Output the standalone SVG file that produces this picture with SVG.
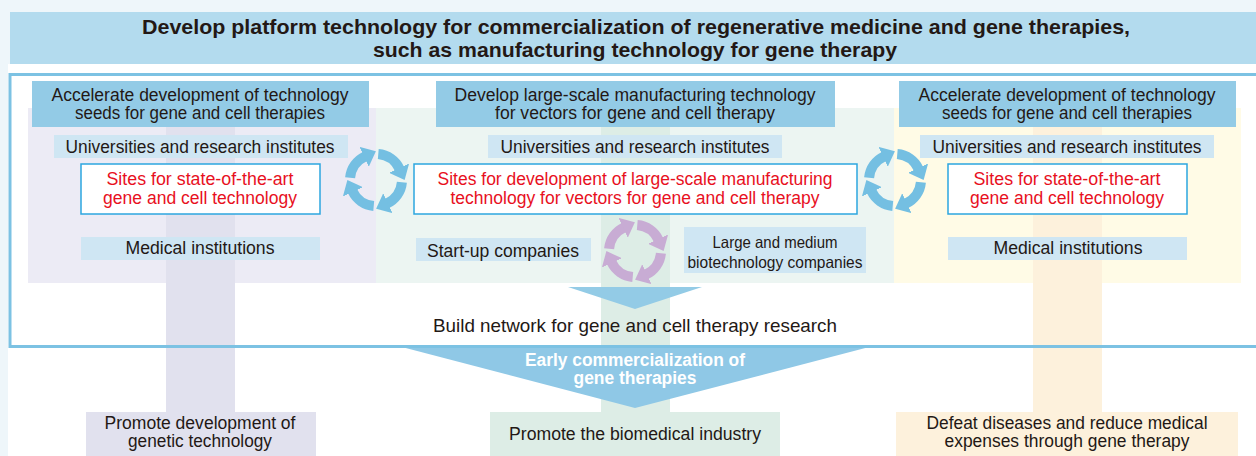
<svg xmlns="http://www.w3.org/2000/svg" width="1256" height="456" viewBox="0 0 1256 456">
<style>
text{font-family:"Liberation Sans",Arial,sans-serif;fill:#231815;text-anchor:middle}
.hd{font-size:20.5px;font-weight:bold}
.t{font-size:17.5px}
.sm{font-size:16.5px}
.red{fill:#e8101e}
.wb{fill:#ffffff;font-weight:bold;font-size:17.5px}
.colhd{fill:#93cbe6}
.lbl{fill:#cfe6f3}
.site{fill:#ffffff;stroke:#2ca6df;stroke-width:1.5}
</style>
<defs>
<marker id="mb" markerUnits="userSpaceOnUse" markerWidth="15" markerHeight="22" refX="1" refY="11" orient="auto">
<path d="M0,0 L13,11 L0,22 Z" fill="#74bfe2"/>
</marker>
<marker id="mp" markerUnits="userSpaceOnUse" markerWidth="15" markerHeight="22" refX="1" refY="11" orient="auto">
<path d="M0,0 L13,11 L0,22 Z" fill="#c8acd4"/>
</marker>
<g id="cycB" fill="none" stroke="#74bfe2" stroke-width="10">
<path d="M2.27,-25.9 A26,26 0 0 1 23.56,-10.99" marker-end="url(#mb)"/>
<path d="M25.9,2.27 A26,26 0 0 1 10.99,23.56" marker-end="url(#mb)"/>
<path d="M-2.27,25.9 A26,26 0 0 1 -23.56,10.99" marker-end="url(#mb)"/>
<path d="M-25.9,-2.27 A26,26 0 0 1 -10.99,-23.56" marker-end="url(#mb)"/>
</g>
<g id="cycP" fill="none" stroke="#c8acd4" stroke-width="10">
<path d="M2.27,-25.9 A26,26 0 0 1 23.56,-10.99" marker-end="url(#mp)"/>
<path d="M25.9,2.27 A26,26 0 0 1 10.99,23.56" marker-end="url(#mp)"/>
<path d="M-2.27,25.9 A26,26 0 0 1 -23.56,10.99" marker-end="url(#mp)"/>
<path d="M-25.9,-2.27 A26,26 0 0 1 -10.99,-23.56" marker-end="url(#mp)"/>
</g>
</defs>

<!-- background -->
<rect x="0" y="0" width="1256" height="456" fill="#eef6fa"/>
<rect x="8" y="64" width="1248" height="392" fill="#ffffff"/>

<!-- column backgrounds -->
<g id="col-bg">
<rect x="28" y="108" width="348" height="175" fill="#ecebf5"/>
<rect x="376" y="108" width="518" height="175" fill="#ecf5f2"/>
<rect x="894" y="108" width="347" height="175" fill="#fffbe6"/>
<rect x="166" y="108" width="69" height="304" fill="#e1e1ee"/>
<rect x="601" y="108" width="69" height="304" fill="#ddede6"/>
<rect x="1033" y="108" width="69" height="304" fill="#fdf1dc"/>
</g>

<!-- header -->
<g id="header">
<rect x="10" y="12" width="1246" height="52" fill="#b3dbee"/>
<text class="hd" x="636" y="34" textLength="988" lengthAdjust="spacingAndGlyphs">Develop platform technology for commercialization of regenerative medicine and gene therapies,</text>
<text class="hd" x="635" y="57" textLength="524" lengthAdjust="spacingAndGlyphs">such as manufacturing technology for gene therapy</text>
</g>

<!-- funnel -->
<g id="funnel">
<polygon points="398,346 873,346 635,408" fill="#8fc8e6"/>
<text class="wb" x="635" y="366" textLength="220" lengthAdjust="spacingAndGlyphs">Early commercialization of</text>
<text class="wb" x="635" y="384" textLength="123" lengthAdjust="spacingAndGlyphs">gene therapies</text>
</g>

<!-- outer frame -->
<g id="network-frame">
<rect x="10" y="74.5" width="1270" height="272" fill="none" stroke="#7cc2e3" stroke-width="3"/>
<text class="t" x="635" y="332" style="font-size:19px" textLength="404" lengthAdjust="spacingAndGlyphs">Build network for gene and cell therapy research</text>
</g>

<!-- left column -->
<g id="left-header">
<rect class="colhd" x="32" y="81" width="337" height="46"/>
<text class="t" x="200" y="101" textLength="297" lengthAdjust="spacingAndGlyphs">Accelerate development of technology</text>
<text class="t" x="200" y="119" textLength="250" lengthAdjust="spacingAndGlyphs">seeds for gene and cell therapies</text>
</g>
<g id="left-universities">
<rect class="lbl" x="54" y="135" width="294" height="23"/>
<text class="t" x="200" y="153" textLength="269" lengthAdjust="spacingAndGlyphs">Universities and research institutes</text>
</g>
<g id="left-sites">
<rect class="site" x="81" y="164" width="239" height="50"/>
<text class="t red" x="200" y="185" textLength="187" lengthAdjust="spacingAndGlyphs">Sites for state-of-the-art</text>
<text class="t red" x="200" y="204" textLength="194" lengthAdjust="spacingAndGlyphs">gene and cell technology</text>
</g>
<g id="left-medical">
<rect class="lbl" x="81" y="237" width="239" height="23"/>
<text class="t" x="200" y="254" textLength="149" lengthAdjust="spacingAndGlyphs">Medical institutions</text>
</g>

<!-- middle column -->
<g id="mid-header">
<rect class="colhd" x="436" y="81" width="399" height="46"/>
<text class="t" x="635" y="101" textLength="361" lengthAdjust="spacingAndGlyphs">Develop large-scale manufacturing technology</text>
<text class="t" x="635" y="119" textLength="280" lengthAdjust="spacingAndGlyphs">for vectors for gene and cell therapy</text>
</g>
<g id="mid-universities">
<rect class="lbl" x="488" y="135" width="294" height="23"/>
<text class="t" x="635" y="153" textLength="269" lengthAdjust="spacingAndGlyphs">Universities and research institutes</text>
</g>
<g id="mid-sites">
<rect class="site" x="414" y="164" width="443" height="50"/>
<text class="t red" x="635" y="185" textLength="395" lengthAdjust="spacingAndGlyphs">Sites for development of large-scale manufacturing</text>
<text class="t red" x="635" y="204" textLength="369" lengthAdjust="spacingAndGlyphs">technology for vectors for gene and cell therapy</text>
</g>
<g id="mid-startup">
<rect class="lbl" x="416" y="238" width="175" height="23"/>
<text class="t" x="503" y="257" textLength="152" lengthAdjust="spacingAndGlyphs">Start-up companies</text>
</g>
<g id="mid-large">
<rect class="lbl" x="684" y="227" width="182" height="46"/>
<text class="sm" x="775" y="248" textLength="125" lengthAdjust="spacingAndGlyphs">Large and medium</text>
<text class="sm" x="775" y="268" textLength="175" lengthAdjust="spacingAndGlyphs">biotechnology companies</text>
</g>

<!-- right column -->
<g id="right-header">
<rect class="colhd" x="899" y="81" width="337" height="46"/>
<text class="t" x="1067" y="101" textLength="297" lengthAdjust="spacingAndGlyphs">Accelerate development of technology</text>
<text class="t" x="1067" y="119" textLength="250" lengthAdjust="spacingAndGlyphs">seeds for gene and cell therapies</text>
</g>
<g id="right-universities">
<rect class="lbl" x="920" y="135" width="294" height="23"/>
<text class="t" x="1067" y="153" textLength="269" lengthAdjust="spacingAndGlyphs">Universities and research institutes</text>
</g>
<g id="right-sites">
<rect class="site" x="948" y="164" width="239" height="50"/>
<text class="t red" x="1067" y="185" textLength="187" lengthAdjust="spacingAndGlyphs">Sites for state-of-the-art</text>
<text class="t red" x="1067" y="204" textLength="194" lengthAdjust="spacingAndGlyphs">gene and cell technology</text>
</g>
<g id="right-medical">
<rect class="lbl" x="948" y="237" width="239" height="23"/>
<text class="t" x="1068" y="254" textLength="149" lengthAdjust="spacingAndGlyphs">Medical institutions</text>
</g>

<!-- connectors -->
<g id="connectors">
<use href="#cycB" transform="translate(376,180)"/>
<use href="#cycB" transform="translate(895,180)"/>
<use href="#cycP" transform="translate(635,251)"/>
<polygon points="568,287 702,287 635,309" fill="#93cbe6"/>
</g>

<!-- outcomes -->
<g id="out-left">
<rect x="86" y="412" width="230" height="44" fill="#e1e1ee"/>
<text class="t" x="200" y="429" textLength="191" lengthAdjust="spacingAndGlyphs">Promote development of</text>
<text class="t" x="200" y="447" textLength="144" lengthAdjust="spacingAndGlyphs">genetic technology</text>
</g>
<g id="out-mid">
<rect x="490" y="412" width="290" height="44" fill="#ddede6"/>
<text class="t" x="635" y="440" textLength="252" lengthAdjust="spacingAndGlyphs">Promote the biomedical industry</text>
</g>
<g id="out-right">
<rect x="896" y="412" width="342" height="44" fill="#fdf1dc"/>
<text class="t" x="1067" y="429" textLength="281" lengthAdjust="spacingAndGlyphs">Defeat diseases and reduce medical</text>
<text class="t" x="1067" y="447" textLength="245" lengthAdjust="spacingAndGlyphs">expenses through gene therapy</text>
</g>
</svg>
